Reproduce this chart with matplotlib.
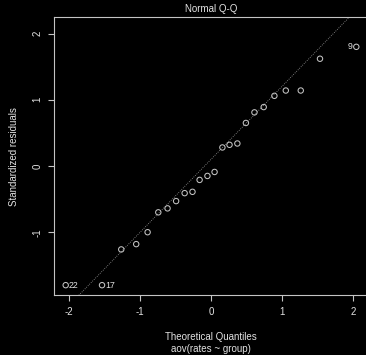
import matplotlib
matplotlib.use("Agg")
import matplotlib.pyplot as plt

# theoretical normal quantiles and standardized residuals
theo = [-2.04, -1.53, -1.26, -1.05, -0.89, -0.74, -0.61, -0.49, -0.37, -0.26, -0.16, -0.05,
        0.05, 0.16, 0.26, 0.37, 0.49, 0.61, 0.74, 0.89, 1.05, 1.26, 1.53, 2.04]
resid = [-1.80, -1.80, -1.26, -1.18, -1.00, -0.70, -0.64, -0.53, -0.41, -0.39, -0.21, -0.15,
         -0.09, 0.28, 0.32, 0.34, 0.65, 0.81, 0.89, 1.06, 1.14, 1.14, 1.62, 1.80]
point_labels = {0: "22", 1: "17", 23: "9"}

# qqline through the quartiles
line_intercept = 0.10
line_slope = 1.106

xticks = [-2, -1, 0, 1, 2]
yticks = [-1, 0, 1, 2]

fg = "#c4c4c4"
txt = "#e2e2e2"

plt.rcParams['font.family'] = ['Liberation Sans', 'DejaVu Sans']

fig = plt.figure(figsize=(3.66, 3.55), dpi=100, facecolor="black")
ax = fig.add_axes([54.3 / 366, (355 - 295.3) / 355, (367.7 - 54.3) / 366, (295.3 - 17.3) / 355])
ax.set_facecolor("black")

ax.scatter(theo, resid, s=15, facecolors="none", edgecolors=fg, linewidths=0.75, zorder=3)
ax.axline((0, line_intercept), slope=line_slope, color="#9a9a9a", lw=0.6, ls=(0, (1, 1.6)))

for i, lab in point_labels.items():
    if theo[i] < 0:
        ax.annotate(lab, (theo[i], resid[i]), xytext=(2.4, 0), textcoords="offset points",
                    ha="left", va="center", fontsize=6.3, color=txt)
    else:
        ax.annotate(lab, (theo[i], resid[i]), xytext=(-2.4, 0), textcoords="offset points",
                    ha="right", va="center", fontsize=6.3, color=txt)

ax.set_xlim(-2.2, 2.2)
ax.set_ylim(-1.953, 2.246)
ax.set_xticks(xticks)
ax.set_yticks(yticks)
ax.set_xticklabels([str(v) for v in xticks])
ax.set_yticklabels([str(v) for v in yticks], rotation=90, va="center")

for s in ax.spines.values():
    s.set_color(fg)
    s.set_linewidth(0.8)
ax.spines["right"].set_visible(False)

ax.tick_params(colors=fg, labelcolor=txt, labelsize=7, length=4.3, width=0.8, pad=4)

fig.text(211 / 366, 1 - 9 / 355, "Normal Q-Q", ha="center", va="center", fontsize=7, color=txt)
fig.text(211 / 366, 1 - 337 / 355, "Theoretical Quantiles", ha="center", va="center",
         fontsize=7, color=txt)
fig.text(211 / 366, 1 - 348.5 / 355, "aov(rates ~ group)", ha="center", va="center",
         fontsize=7, color=txt)
fig.text(14 / 366, 1 - 157 / 355, "Standardized residuals", ha="center", va="center",
         rotation=90, fontsize=7, color=txt)

fig.savefig("out.png", dpi=100, facecolor="black")
